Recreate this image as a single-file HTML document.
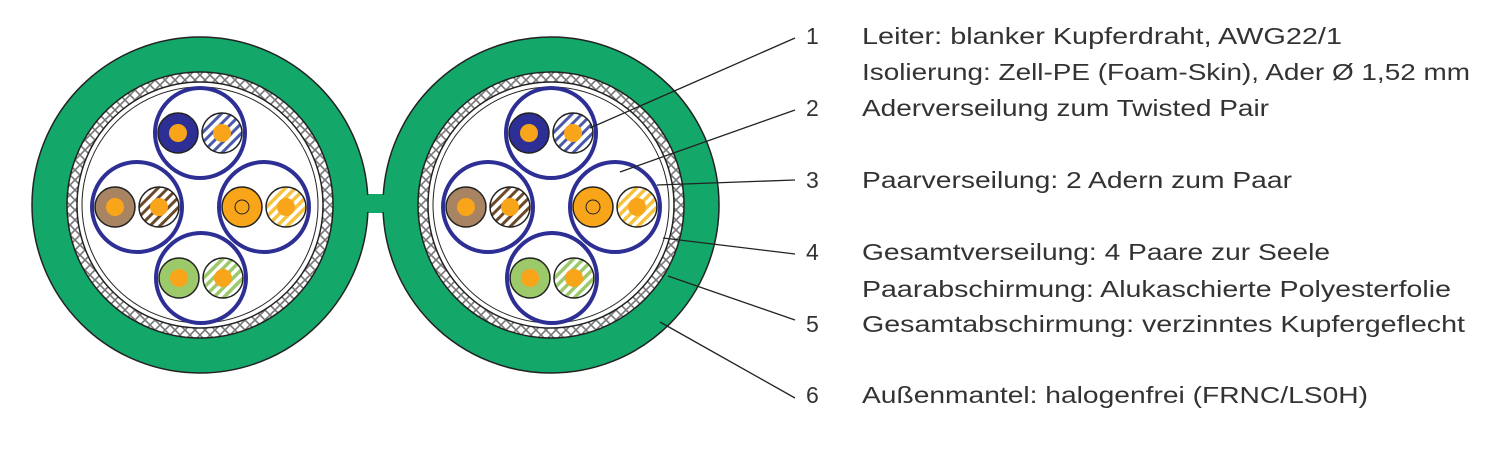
<!DOCTYPE html>
<html><head><meta charset="utf-8"><style>
html,body{margin:0;padding:0;background:#fff;}
svg{display:block}
text{font-family:"Liberation Sans Narrow","Liberation Sans",sans-serif;font-size:23px;fill:#333;}
</style></head><body>
<svg width="1500" height="456" viewBox="0 0 1500 456" xmlns="http://www.w3.org/2000/svg">
<defs>
<pattern id="sb" width="7" height="7" patternUnits="userSpaceOnUse" patternTransform="rotate(45)"><rect width="7" height="7" fill="#fff"/><rect width="3" height="7" fill="#4a5aa8"/></pattern>
<pattern id="sbr" width="7" height="7" patternUnits="userSpaceOnUse" patternTransform="rotate(45)"><rect width="7" height="7" fill="#fff"/><rect width="3" height="7" fill="#6b4a2a"/></pattern>
<pattern id="so" width="7" height="7" patternUnits="userSpaceOnUse" patternTransform="rotate(45)"><rect width="7" height="7" fill="#fff"/><rect width="3.5" height="7" fill="#f7c23d"/></pattern>
<pattern id="sg" width="7" height="7" patternUnits="userSpaceOnUse" patternTransform="rotate(45)"><rect width="7" height="7" fill="#fff"/><rect width="3.5" height="7" fill="#9cc96a"/></pattern>
<pattern id="braid" width="10" height="10" patternUnits="userSpaceOnUse"><rect width="10" height="10" fill="#fff"/><path d="M0 0L10 10M10 0L0 10" stroke="#777" stroke-width="1.6"/></pattern>
<g id="cable">
<circle r="168" fill="#13a86a" stroke="#222" stroke-width="1.5"/>
<circle r="133" fill="url(#braid)" stroke="#222" stroke-width="1.5"/>
<circle r="123" fill="#fff" stroke="#222" stroke-width="1.5"/>
<circle r="118" fill="#fff" stroke="#222" stroke-width="1"/>
<g transform="translate(0,-72)">
<circle r="45" fill="#fff" stroke="#2e2f95" stroke-width="4"/>
<circle cx="-22" r="20" fill="#2e2f95" stroke="#222" stroke-width="1.5"/><circle cx="-22" r="9" fill="#f9a51a"/>
<circle cx="22" r="20" fill="url(#sb)" stroke="#222" stroke-width="1.5"/><circle cx="22" r="9" fill="#f9a51a"/>
</g>
<g transform="translate(-63,2)">
<circle r="45" fill="#fff" stroke="#2e2f95" stroke-width="4"/>
<circle cx="-22" r="20" fill="#a88462" stroke="#222" stroke-width="1.5"/><circle cx="-22" r="9" fill="#f9a51a"/>
<circle cx="22" r="20" fill="url(#sbr)" stroke="#222" stroke-width="1.5"/><circle cx="22" r="9" fill="#f9a51a"/>
</g>
<g transform="translate(64,2)">
<circle r="45" fill="#fff" stroke="#2e2f95" stroke-width="4"/>
<circle cx="-22" r="20" fill="#f9a51a" stroke="#222" stroke-width="1.5"/><circle cx="-22" r="7" fill="none" stroke="#222" stroke-width="1"/>
<circle cx="22" r="20" fill="url(#so)" stroke="#222" stroke-width="1.5"/><circle cx="22" r="9" fill="#f9a51a"/>
</g>
<g transform="translate(1,73)">
<circle r="45" fill="#fff" stroke="#2e2f95" stroke-width="4"/>
<circle cx="-22" r="20" fill="#9cc96a" stroke="#222" stroke-width="1.5"/><circle cx="-22" r="9" fill="#f9a51a"/>
<circle cx="22" r="20" fill="url(#sg)" stroke="#222" stroke-width="1.5"/><circle cx="22" r="9" fill="#f9a51a"/>
</g>
</g>
</defs>
<rect x="355" y="194" width="40" height="19" fill="#13a86a"/>
<use href="#cable" x="200" y="205"/>
<use href="#cable" x="551" y="205"/>
<rect x="360" y="195" width="30" height="17" fill="#13a86a"/>
<g stroke="#222" stroke-width="1.3">
<line x1="795" y1="38" x2="590" y2="128"/>
<line x1="795" y1="110" x2="620" y2="172"/>
<line x1="795" y1="180" x2="657" y2="185"/>
<line x1="795" y1="254" x2="663" y2="238"/>
<line x1="795" y1="320" x2="668" y2="276"/>
<line x1="795" y1="398" x2="660" y2="322"/>
</g>
<text x="806" y="44">1</text>
<text x="806" y="116">2</text>
<text x="806" y="188">3</text>
<text x="806" y="260">4</text>
<text x="806" y="332">5</text>
<text x="806" y="403">6</text>
<text x="862" y="44" textLength="480" lengthAdjust="spacingAndGlyphs">Leiter: blanker Kupferdraht, AWG22/1</text>
<text x="862" y="80" textLength="608" lengthAdjust="spacingAndGlyphs">Isolierung: Zell-PE (Foam-Skin), Ader Ø 1,52 mm</text>
<text x="862" y="116" textLength="407" lengthAdjust="spacingAndGlyphs">Aderverseilung zum Twisted Pair</text>
<text x="862" y="188" textLength="430" lengthAdjust="spacingAndGlyphs">Paarverseilung: 2 Adern zum Paar</text>
<text x="862" y="260" textLength="468" lengthAdjust="spacingAndGlyphs">Gesamtverseilung: 4 Paare zur Seele</text>
<text x="862" y="297" textLength="589" lengthAdjust="spacingAndGlyphs">Paarabschirmung: Alukaschierte Polyesterfolie</text>
<text x="862" y="332" textLength="603" lengthAdjust="spacingAndGlyphs">Gesamtabschirmung: verzinntes Kupfergeflecht</text>
<text x="862" y="403" textLength="506" lengthAdjust="spacingAndGlyphs">Außenmantel: halogenfrei (FRNC/LS0H)</text>
</svg>
</body></html>
